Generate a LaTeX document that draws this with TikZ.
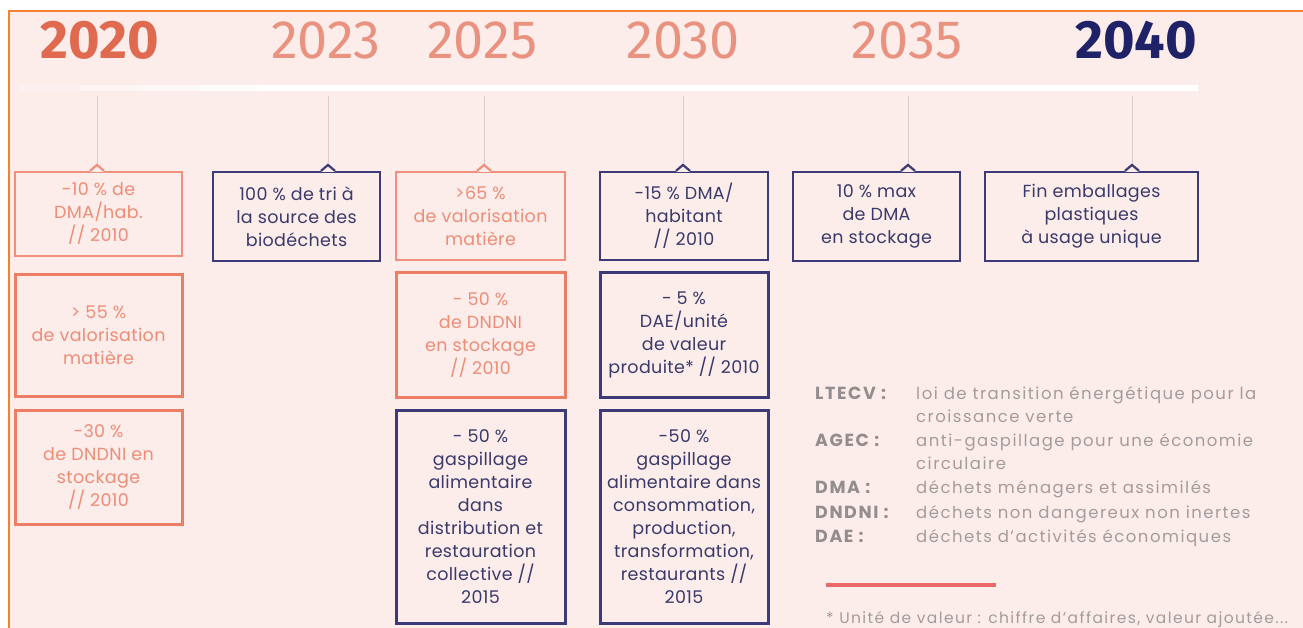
\documentclass[tikz,border=0pt]{standalone}
\usepackage{fontspec}
\setmainfont{Poppins}[LetterSpace=2]
\newfontfamily\yearfont{Fira Sans}
\newfontfamily\legfont{Poppins}[LetterSpace=9]
\usetikzlibrary{calc}
\definecolor{bgpink}{HTML}{FCEDEB}
\definecolor{framec}{HTML}{F08232}
\definecolor{coraltxt}{HTML}{EE8C76}
\definecolor{coralbd}{HTML}{F0907C}
\definecolor{coraldk}{HTML}{EC7E66}
\definecolor{yearbold}{HTML}{E06A50}
\definecolor{yearthin}{HTML}{E9927F}
\definecolor{navy}{HTML}{3C3B78}
\definecolor{navytxt}{HTML}{3A3A6A}
\definecolor{navydk}{HTML}{1F2266}
\definecolor{linegray}{HTML}{D8CDCD}
\definecolor{leggray}{HTML}{A39C9C}
\definecolor{legkeygray}{HTML}{938D8D}
\definecolor{redline}{HTML}{E9686A}
\tikzset{
  boxc/.style={draw=coralbd, line width=2.2pt, text=coraltxt, inner sep=0pt, align=center,
    font=\fontsize{17.5}{23}\selectfont},
  boxcc/.style={boxc, draw=coraldk, line width=3pt},
  boxn/.style={draw=navy, line width=2.2pt, text=navytxt, inner sep=0pt, align=center,
    font=\fontsize{17.5}{23}\selectfont},
  boxnn/.style={boxn, line width=3pt},
  yearthinst/.style={text=yearthin, font=\yearfont\fontsize{54}{54}\selectfont, inner sep=0pt},
  yearboldst/.style={font=\yearfont\bfseries\fontsize{54}{54}\selectfont, inner sep=0pt},
  conn/.style={draw=linegray, line width=0.9pt},
  legkey/.style={text=legkeygray, font=\legfont\bfseries\fontsize{17.5}{23}\selectfont, anchor=base west, inner sep=0pt},
  legval/.style={text=leggray, font=\legfont\fontsize{16.5}{23}\selectfont, anchor=base west, inner sep=0pt, align=left},
}
\newcommand{\mynotch}[3]{%
  \fill[bgpink] ($(#2 |- #1.north)+(-7,1)$) -- ($(#2 |- #1.north)+(0,-6)$) -- ($(#2 |- #1.north)+(7,1)$) -- cycle;
  \draw[#3, line width=2.2pt, line join=miter] ($(#2 |- #1.north)+(-7,0)$) -- ($(#2 |- #1.north)+(0,-6)$) -- ($(#2 |- #1.north)+(7,0)$);
  \draw[conn] (#2) -- ($(#2 |- #1.north)+(0,-7)$);
}
\begin{document}
\begin{tikzpicture}[x=1pt,y=-1pt]
\useasboundingbox (0,0) rectangle (1303,628);
\fill[white] (0,0) rectangle (1303,628);
\fill[bgpink] (8,10) rectangle (1303,628);
\draw[framec, line width=2.6pt] (9,628) -- (9,11) -- (1303,11);
% white band (fading on the left)
\fill[white, opacity=0.25] (20,85) rectangle (80,91);
\fill[white, opacity=0.45] (80,85) rectangle (140,91);
\fill[white, opacity=0.65] (140,85) rectangle (200,91);
\fill[white, opacity=0.85] (200,85) rectangle (260,91);
\fill[white] (260,85) rectangle (1198,91);
% years
\node[yearboldst, text=yearbold] (y2020) at (100,40) {2020};
\node[yearthinst] (y2023) at (326,40) {2023};
\node[yearthinst] (y2025) at (482,40) {2025};
\node[yearthinst] (y2030) at (683,40) {2030};
\node[yearthinst] (y2035) at (907,40) {2035};
\node[yearboldst, text=navydk] (y2040) at (1136,40) {2040};
% connector tops
\coordinate (t1) at (97,96);
\coordinate (t2) at (328,96);
\coordinate (t3) at (484,96);
\coordinate (t4) at (683,96);
\coordinate (t5) at (908,96);
\coordinate (t6) at (1132,96);
% column 1
\node[boxc, minimum width=167pt, minimum height=84pt] (c1a) at (98.5,214) {-10 \% de\\DMA/hab.\\// 2010};
\node[boxcc, minimum width=167pt, minimum height=121pt] (c1b) at (98.5,335.5) {> 55 \%\\de valorisation\\matière};
\node[boxcc, minimum width=167pt, minimum height=114pt] (c1c) at (98.5,467) {-30 \%\\de DNDNI en\\stockage\\// 2010};
% column 2
\node[boxn, minimum width=167pt, minimum height=89pt] (c2a) at (296.5,216.5) {100 \% de tri à\\la source des\\biodéchets};
% column 3
\node[boxc, minimum width=169pt, minimum height=88pt] (c3a) at (480.5,216) {>65 \%\\de valorisation\\matière};
\node[boxcc, minimum width=169pt, minimum height=124pt] (c3b) at (480.5,335) {- 50 \%\\de DNDNI\\en stockage\\// 2010};
\node[boxnn, minimum width=169pt, minimum height=213pt] (c3c) at (480.5,516.5) {- 50 \%\\gaspillage\\alimentaire\\dans\\distribution et\\restauration\\collective //\\2015};
% column 4
\node[boxn, minimum width=168pt, minimum height=88pt] (c4a) at (684,216) {-15 \% DMA/\\habitant\\// 2010};
\node[boxnn, minimum width=168pt, minimum height=124pt] (c4b) at (684,335) {- 5 \%\\DAE/unité\\de valeur\\produite* // 2010};
\node[boxnn, minimum width=168pt, minimum height=213pt] (c4c) at (684,516.5) {-50 \%\\gaspillage\\alimentaire dans\\consommation,\\production,\\transformation,\\restaurants //\\2015};
% column 5
\node[boxn, minimum width=167pt, minimum height=89pt] (c5a) at (876.5,216.5) {10 \% max\\de DMA\\en stockage};
% column 6
\node[boxn, minimum width=213pt, minimum height=89pt] (c6a) at (1091.5,216.5) {Fin emballages\\plastiques\\à usage unique};
% notches and connectors
\mynotch{c1a}{t1}{coralbd}
\mynotch{c2a}{t2}{navy}
\mynotch{c3a}{t3}{coralbd}
\mynotch{c4a}{t4}{navy}
\mynotch{c5a}{t5}{navy}
\mynotch{c6a}{t6}{navy}
% legend
\node[legkey] (k1) at (815,399) {LTECV :};
\node[legval] (v1) at (916,399) {loi de transition énergétique pour la};
\node[legval] (v1b) at (916,422) {croissance verte};
\node[legkey] (k2) at (815,446) {AGEC :};
\node[legval] (v2) at (916,446) {anti-gaspillage pour une économie};
\node[legval] (v2b) at (916,469) {circulaire};
\node[legkey] (k3) at (815,493) {DMA :};
\node[legval] (v3) at (916,493) {déchets ménagers et assimilés};
\node[legkey] (k4) at (815,518) {DNDNI :};
\node[legval] (v4) at (916,518) {déchets non dangereux non inertes};
\node[legkey] (k5) at (815,542) {DAE :};
\node[legval] (v5) at (916,542) {déchets d’activités économiques};
\coordinate (rl1) at (826,585);
\coordinate (rl2) at (996,585);
\draw[redline, line width=3.5pt] (rl1) -- (rl2);
\node[legval, font=\legfont\fontsize{15.5}{20}\selectfont] (fn) at (826,623) {* Unité de valeur : chiffre d’affaires, valeur ajoutée...};
\end{tikzpicture}
\end{document}
